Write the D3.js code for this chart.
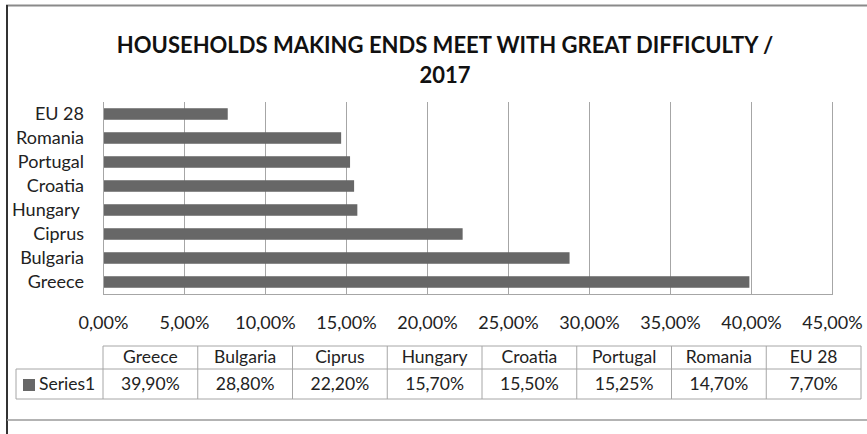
<!DOCTYPE html>
<html>
<head>
<meta charset="utf-8">
<script src="https://cdn.jsdelivr.net/npm/d3@7"></script>
<style>
  html, body { margin: 0; padding: 0; background: #fff; }
  svg { display: block; }
  text { font-family: Lato, "Open Sans", sans-serif; fill: #222; }
</style>
</head>
<body>
<svg id="chart" width="867" height="434"></svg>
<script>
// ---- data ----
const categories = ["Greece", "Bulgaria", "Ciprus", "Hungary", "Croatia", "Portugal", "Romania", "EU 28"];
const values = [39.90, 28.80, 22.20, 15.70, 15.50, 15.25, 14.70, 7.70];
const valueLabels = ["39,90%", "28,80%", "22,20%", "15,70%", "15,50%", "15,25%", "14,70%", "7,70%"];
const xTicks = [0, 5, 10, 15, 20, 25, 30, 35, 40, 45];
const seriesName = "Series1";
const titleLines = ["HOUSEHOLDS MAKING ENDS MEET WITH GREAT DIFFICULTY /", "2017"];

const svg = d3.select("#chart");
const barColor = "#676767";
const gridColor = "#a6a6a6";

// outer frame
svg.append("line").attr("x1", 6).attr("x2", 867).attr("y1", 5.5).attr("y2", 5.5)
  .attr("stroke", "#8a8a8a").attr("stroke-width", 2);
svg.append("line").attr("x1", 7).attr("x2", 7).attr("y1", 5).attr("y2", 434)
  .attr("stroke", "#333").attr("stroke-width", 2);
svg.append("line").attr("x1", 7).attr("x2", 867).attr("y1", 420).attr("y2", 420)
  .attr("stroke", "#9a9a9a").attr("stroke-width", 1.5);

// title
svg.append("text").attr("x", 445).attr("y", 53).attr("text-anchor", "middle")
  .style("font-weight", "bold").style("font-size", "22px").style("fill", "#111").text(titleLines[0]);
svg.append("text").attr("x", 445).attr("y", 83).attr("text-anchor", "middle")
  .style("font-weight", "bold").style("font-size", "22px").style("fill", "#111").text(titleLines[1]);

// scales
const x = d3.scaleLinear().domain([0, 45]).range([103, 832]);
const y = d3.scaleBand().domain(categories.slice().reverse()).range([102, 294]).paddingInner(0.52).paddingOuter(0.26);

// gridlines
svg.append("g").selectAll("line").data(xTicks.slice(1)).join("line")
  .attr("x1", d => x(d) + 0.5).attr("x2", d => x(d) + 0.5)
  .attr("y1", 102).attr("y2", 294)
  .attr("stroke", gridColor).attr("stroke-width", 1);

// bars
svg.append("g").selectAll("rect").data(categories).join("rect")
  .attr("x", x(0)).attr("y", d => y(d))
  .attr("width", (d, i) => x(values[i]) - x(0))
  .attr("height", y.bandwidth())
  .attr("fill", barColor);

// axes lines
svg.append("line").attr("x1", x(0) + 0.5).attr("x2", x(0) + 0.5).attr("y1", 102).attr("y2", 294.5)
  .attr("stroke", gridColor);
svg.append("line").attr("x1", x(0)).attr("x2", x(45) + 1).attr("y1", 294.5).attr("y2", 294.5)
  .attr("stroke", gridColor);

// x axis labels
const xAxis = d3.axisBottom(x).tickValues(xTicks)
  .tickFormat(d => d3.format(".2f")(d).replace(".", ",") + "%").tickSize(0).tickPadding(0);
const gx = svg.append("g").attr("transform", "translate(0,316)").call(xAxis);
gx.select(".domain").remove();
gx.selectAll("text").style("font-size", "18px").style("font-family", "Lato, sans-serif").attr("fill", "#222");

// y axis labels
const yAxis = d3.axisLeft(y).tickSize(0).tickPadding(0).tickFormat(d => d === "Hungary" ? "Hungary\u00a0" : d);
const gy = svg.append("g").attr("transform", "translate(84,0)").call(yAxis);
gy.select(".domain").remove();
gy.selectAll("text").style("font-size", "18px").style("font-family", "Lato, sans-serif").attr("fill", "#222");

// data table
const tx = d3.scaleBand().domain(categories).range([103, 861]);
const tableStroke = "#a6a6a6";
const rowTop = 346, rowMid = 369, rowBot = 399, tableLeft = 16;
const tg = svg.append("g");
tg.append("line").attr("x1", 103).attr("x2", 861).attr("y1", rowTop).attr("y2", rowTop).attr("stroke", tableStroke);
tg.append("line").attr("x1", tableLeft).attr("x2", 861).attr("y1", rowMid).attr("y2", rowMid).attr("stroke", tableStroke);
tg.append("line").attr("x1", tableLeft).attr("x2", 861).attr("y1", rowBot).attr("y2", rowBot).attr("stroke", tableStroke);
tg.append("line").attr("x1", tableLeft).attr("x2", tableLeft).attr("y1", rowMid).attr("y2", rowBot).attr("stroke", tableStroke);
tg.selectAll("line.v").data(categories).join("line").attr("class", "v")
  .attr("x1", d => tx(d)).attr("x2", d => tx(d))
  .attr("y1", rowTop).attr("y2", rowBot).attr("stroke", tableStroke);
tg.append("line").attr("x1", 861).attr("x2", 861).attr("y1", rowTop).attr("y2", rowBot).attr("stroke", tableStroke);
tg.selectAll("text.h").data(categories).join("text").attr("class", "h")
  .attr("x", d => tx(d) + tx.bandwidth() / 2).attr("y", rowTop + 17)
  .attr("text-anchor", "middle").style("font-size", "17.5px").text(d => d);
tg.selectAll("text.v").data(categories).join("text").attr("class", "v")
  .attr("x", d => tx(d) + tx.bandwidth() / 2).attr("y", rowMid + 21)
  .attr("text-anchor", "middle").style("font-size", "17.5px").text((d, i) => valueLabels[i]);
tg.append("rect").attr("x", 23).attr("y", 379).attr("width", 12).attr("height", 12).attr("fill", barColor);
tg.append("text").attr("x", 39).attr("y", rowMid + 21).style("font-size", "17.5px").text(seriesName);
</script>
</body>
</html>
